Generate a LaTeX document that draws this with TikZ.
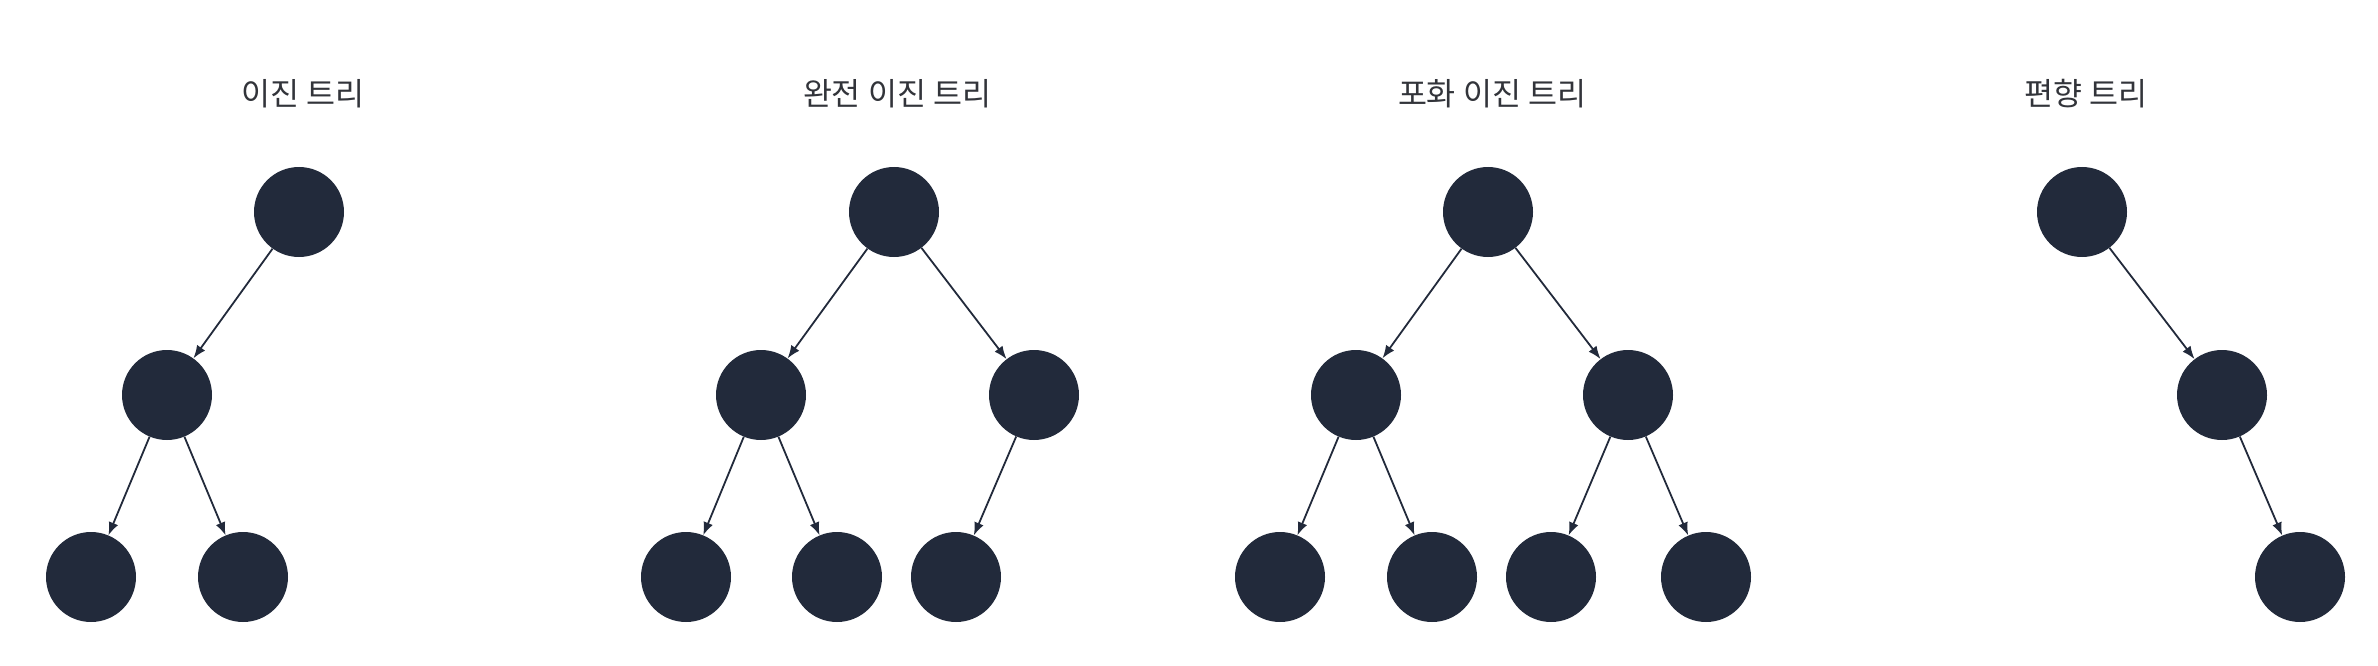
\documentclass[tikz,border=0pt]{standalone}
\usepackage{fontspec}
\newfontfamily\kfont{Noto Sans CJK KR}
\usetikzlibrary{arrows.meta}
\definecolor{nodecol}{RGB}{34,42,59}
\definecolor{textcol}{RGB}{50,52,58}
\tikzset{
  tn/.style={circle, fill=nodecol, draw=none, minimum size=90pt, inner sep=0pt},
  edge/.style={draw=nodecol, line width=1.8pt, -{Latex[length=13pt,width=10pt]}},
  ttl/.style={font=\kfont\fontsize{31.5pt}{36pt}\selectfont, text=textcol}
}
\begin{document}
\begin{tikzpicture}[x=1pt,y=1pt]
\useasboundingbox (0,0) rectangle (2378,-666);
% Tree 1
\node[ttl] (t1) at (303,-94) {이진 트리};
\node[tn] (a1) at (299,-212) {};
\node[tn] (a2) at (167,-395) {};
\node[tn] (a3) at (91,-577) {};
\node[tn] (a4) at (243,-577) {};
\draw[edge] (a1) -- (a2);
\draw[edge] (a2) -- (a3);
\draw[edge] (a2) -- (a4);
% Tree 2
\node[ttl] (t2) at (897,-94) {완전 이진 트리};
\node[tn] (b1) at (894,-212) {};
\node[tn] (b2) at (761,-395) {};
\node[tn] (b3) at (1034,-395) {};
\node[tn] (b4) at (686,-577) {};
\node[tn] (b5) at (837,-577) {};
\node[tn] (b6) at (956,-577) {};
\draw[edge] (b1) -- (b2);
\draw[edge] (b1) -- (b3);
\draw[edge] (b2) -- (b4);
\draw[edge] (b2) -- (b5);
\draw[edge] (b3) -- (b6);
% Tree 3
\node[ttl] (t3) at (1492,-94) {포화 이진 트리};
\node[tn] (c1) at (1488,-212) {};
\node[tn] (c2) at (1356,-395) {};
\node[tn] (c3) at (1628,-395) {};
\node[tn] (c4) at (1280,-577) {};
\node[tn] (c5) at (1432,-577) {};
\node[tn] (c6) at (1551,-577) {};
\node[tn] (c7) at (1706,-577) {};
\draw[edge] (c1) -- (c2);
\draw[edge] (c1) -- (c3);
\draw[edge] (c2) -- (c4);
\draw[edge] (c2) -- (c5);
\draw[edge] (c3) -- (c6);
\draw[edge] (c3) -- (c7);
% Tree 4
\node[ttl] (t4) at (2086,-94) {편향 트리};
\node[tn] (d1) at (2082,-212) {};
\node[tn] (d2) at (2222,-395) {};
\node[tn] (d3) at (2300,-577) {};
\draw[edge] (d1) -- (d2);
\draw[edge] (d2) -- (d3);
\end{tikzpicture}
\end{document}
